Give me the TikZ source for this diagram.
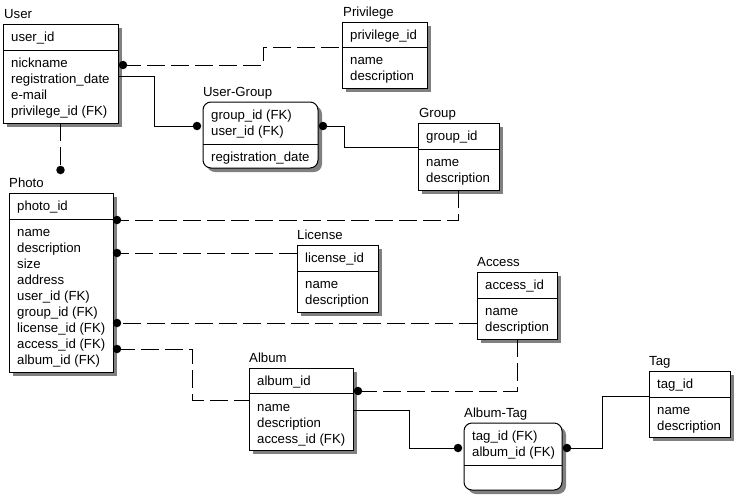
\documentclass[tikz,border=0pt]{standalone}
\usepackage{fontspec}
\setmainfont{Liberation Sans}
\newcommand\entity[7]{% name, left, top, right, bottom, sep, shape style
  \fill[shadow,#7] (#2+4,#3+4) rectangle (#4+4,#5+4);
  \node[ebox,#7, minimum width={(#4-#2)*1pt}, minimum height={(#5-#3)*1pt}] (#1) at (#2,#3) {};
  \draw[line width=1pt] (#2,#6) -- (#4,#6);
}
\begin{document}
\begin{tikzpicture}[x=1pt,y=-1pt,
  every node/.style={font=\fontsize{13.2}{16}\selectfont},
  ebox/.style={draw, line width=1pt, fill=white, anchor=north west, inner sep=0pt, outer sep=0pt},
  shadow/.style={fill=black!50},
  sq/.style={},
  rnd/.style={rounded corners=8pt},
  txt/.style={anchor=base west, inner sep=0pt},
  conn/.style={line width=1pt},
  idconn/.style={conn, dash pattern=on 18pt off 6pt},
  dot/.style={circle, fill=black, draw=none, solid, inner sep=0pt, minimum size=8.5pt}]
\useasboundingbox (0,0) rectangle (736,496);

% ---------- entities ----------
\entity{user}{3}{24}{118}{123}{50.5}{sq}
\node[txt] (user-t) at (4,18.5) {User};
\node[txt] (user-1) at (11,41.5) {user\_id};
\node[txt] (user-2) at (11,67.5) {nickname};
\node[txt] (user-3) at (11,83.5) {registration\_date};
\node[txt] (user-4) at (11,99.5) {e-mail};
\node[txt] (user-5) at (11,115.5) {privilege\_id (FK)};

\entity{privilege}{342}{22}{427}{88}{47}{sq}
\node[txt] (priv-t) at (343,16.5) {Privilege};
\node[txt] (priv-1) at (350,39.5) {privilege\_id};
\node[txt] (priv-2) at (350,64.5) {name};
\node[txt] (priv-3) at (350,80.5) {description};

\entity{usergroup}{203}{102}{318}{168}{144}{rnd}
\node[txt] (ug-t) at (203,96.5) {User-Group};
\node[txt] (ug-1) at (211,119.5) {group\_id (FK)};
\node[txt] (ug-2) at (211,135.5) {user\_id (FK)};
\node[txt] (ug-3) at (211,161) {registration\_date};

\entity{group}{418}{123}{499}{190}{149.5}{sq}
\node[txt] (grp-t) at (419,117.5) {Group};
\node[txt] (grp-1) at (426,140.5) {group\_id};
\node[txt] (grp-2) at (426,166.5) {name};
\node[txt] (grp-3) at (426,182.5) {description};

\entity{photo}{9}{193}{113}{372}{219.5}{sq}
\node[txt] (ph-t) at (9,187.5) {Photo};
\node[txt] (ph-1) at (17,210.5) {photo\_id};
\node[txt] (ph-2) at (17,236.5) {name};
\node[txt] (ph-3) at (17,252.5) {description};
\node[txt] (ph-4) at (17,268.5) {size};
\node[txt] (ph-5) at (17,284.5) {address};
\node[txt] (ph-6) at (17,300.5) {user\_id (FK)};
\node[txt] (ph-7) at (17,316.5) {group\_id (FK)};
\node[txt] (ph-8) at (17,332.5) {license\_id (FK)};
\node[txt] (ph-9) at (17,348.5) {access\_id (FK)};
\node[txt] (ph-10) at (17,364.5) {album\_id (FK)};

\entity{license}{297}{245}{378}{312}{271.5}{sq}
\node[txt] (lic-t) at (297,239.5) {License};
\node[txt] (lic-1) at (305,262.5) {license\_id};
\node[txt] (lic-2) at (305,288.5) {name};
\node[txt] (lic-3) at (305,304.5) {description};

\entity{access}{477}{272}{557}{339}{298.5}{sq}
\node[txt] (acc-t) at (477,266.5) {Access};
\node[txt] (acc-1) at (485,289.5) {access\_id};
\node[txt] (acc-2) at (485,315.5) {name};
\node[txt] (acc-3) at (485,331.5) {description};

\entity{album}{249}{368}{353}{450}{393.5}{sq}
\node[txt] (alb-t) at (249,362.5) {Album};
\node[txt] (alb-1) at (257,385.5) {album\_id};
\node[txt] (alb-2) at (257,411) {name};
\node[txt] (alb-3) at (257,427) {description};
\node[txt] (alb-4) at (257,443) {access\_id (FK)};

\entity{albumtag}{464}{423}{562}{490}{465.5}{rnd}
\node[txt] (at-t) at (464,417.5) {Album-Tag};
\node[txt] (at-1) at (472,440.5) {tag\_id (FK)};
\node[txt] (at-2) at (472,456.5) {album\_id (FK)};

\entity{tag}{649}{371}{730}{437}{397}{sq}
\node[txt] (tag-t) at (649,365.5) {Tag};
\node[txt] (tag-1) at (657,388.5) {tag\_id};
\node[txt] (tag-2) at (657,414) {name};
\node[txt] (tag-3) at (657,430) {description};

% ---------- connectors ----------
\draw[idconn] ([shift={(5,41)}]user.north east) node[dot] (d1) {} -- (263,65) -- (263,47) -- ([shift={(0,25)}]privilege.north west);
\draw[conn] ([shift={(0,52)}]user.north east) -- (154,76) -- (154,126) -- ([shift={(-6,24)}]usergroup.north west) node[dot] (d2) {};
\draw[conn] ([shift={(5,24)}]usergroup.north east) node[dot] (d3) {} -- (344,126) -- (344,147) -- ([shift={(0,24)}]group.north west);
\draw[idconn] (user.south) -- ++(0,47) node[dot] (d4) {};
\draw[idconn] (group.south) -- (458.5,220) -- ([shift={(4,27)}]photo.north east) node[dot] (d5) {};
\draw[idconn] ([shift={(0,8)}]license.north west) -- ([shift={(4,60)}]photo.north east) node[dot] (d6) {};
\draw[idconn] ([shift={(0,51)}]access.north west) -- ([shift={(4,130)}]photo.north east) node[dot] (d7) {};
\draw[idconn] ([shift={(4,156)}]photo.north east) node[dot] (d8) {} -- (192,349) -- (192,400) -- ([shift={(0,32)}]album.north west);
\draw[idconn] (access.south) -- (517,391) -- ([shift={(5,23)}]album.north east) node[dot] (d9) {};
\draw[conn] ([shift={(0,42)}]album.north east) -- (409,410) -- (409,448) -- ([shift={(-6,25)}]albumtag.north west) node[dot] (d10) {};
\draw[conn] ([shift={(5,25)}]albumtag.north east) node[dot] (d11) {} -- (602,448) -- (602,396) -- ([shift={(0,25)}]tag.north west);
\end{tikzpicture}
\end{document}
